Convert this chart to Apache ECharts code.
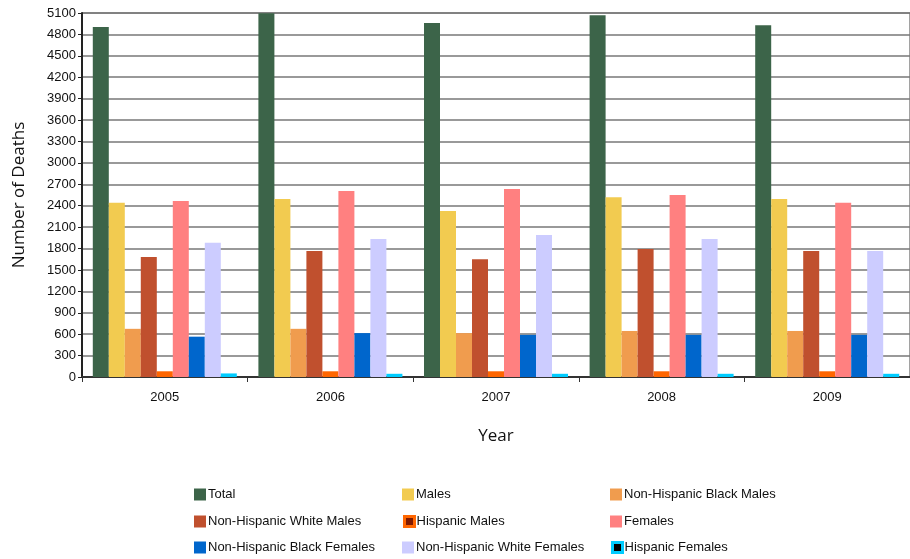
<!DOCTYPE html>
<html>
<head>
<meta charset="utf-8">
<script src="https://cdn.jsdelivr.net/npm/echarts@6/dist/echarts.min.js"></script>
<style>
  html, body { margin: 0; padding: 0; background: #fff; }
  #chart { width: 910px; height: 559px; }
</style>
</head>
<body>
<div id="chart"></div>
<script>
  // years on the x axis
  const years = ['2005', '2006', '2007', '2008', '2009'];

  // deaths per group
  const total = [4905, 5095, 4960, 5070, 4930];
  const males = [2440, 2495, 2325, 2520, 2495];
  const nhBlackMales = [675, 675, 615, 645, 645];
  const nhWhiteMales = [1680, 1765, 1650, 1795, 1765];
  const hispanicMales = [80, 80, 80, 80, 80];
  const females = [2465, 2605, 2635, 2550, 2440];
  const nhBlackFemales = [565, 615, 590, 590, 590];
  const nhWhiteFemales = [1880, 1935, 1990, 1935, 1765];
  const hispanicFemales = [50, 45, 45, 45, 45];

  const seriesNames = ['Total', 'Males', 'Non-Hispanic Black Males', 'Non-Hispanic White Males',
    'Hispanic Males', 'Females', 'Non-Hispanic Black Females', 'Non-Hispanic White Females', 'Hispanic Females'];
  const seriesData = [total, males, nhBlackMales, nhWhiteMales, hispanicMales,
    females, nhBlackFemales, nhWhiteFemales, hispanicFemales];
  const colors = ['#3c6449', '#f2cb50', '#f09c4e', '#c0502e', '#ff6600',
    '#ff8080', '#0066cc', '#ccccff', '#00ccff'];
  // inner colour of the two framed legend keys
  const innerColors = { 'Hispanic Males': '#801a00', 'Hispanic Females': '#000000' };

  const font = 'Liberation Sans, Arial, sans-serif';

  let series = [];
  for (let i = 0; i < seriesNames.length; i++) {
    series.push({
      name: seriesNames[i],
      type: 'bar',
      barWidth: 16,
      barGap: '0%',
      itemStyle: { color: colors[i] },
      data: seriesData[i]
    });
  }

  // one small legend per entry so the 3x3 grid lines up
  const legendLeft = [194, 402, 610];
  const legendTop = [488, 515, 541];
  let legends = [];
  for (let i = 0; i < seriesNames.length; i++) {
    let name = seriesNames[i];
    let framed = innerColors[name] !== undefined;
    let item = { name: name };
    if (framed) {
      item.itemStyle = { color: innerColors[name], borderColor: colors[i], borderWidth: 3 };
    }
    legends.push({
      left: legendLeft[i % 3] + (framed ? 1 : 0),
      top: legendTop[Math.floor(i / 3)],
      padding: 0,
      itemWidth: framed ? 10 : 12,
      itemHeight: framed ? 10 : 12,
      icon: 'rect',
      selectedMode: false,
      textStyle: { fontFamily: font, fontSize: 13, color: '#111', padding: [0, 0, 0, framed ? -3 : -3] },
      data: [item]
    });
  }

  let chart = echarts.init(document.getElementById('chart'));
  chart.setOption({
    animation: false,
    backgroundColor: '#fff',
    grid: {
      left: 82, right: -6, top: 13, bottom: 182,
      show: true, borderColor: '#444', borderWidth: 1
    },
    legend: legends,
    xAxis: {
      type: 'category',
      data: years,
      name: 'Year',
      nameLocation: 'middle',
      nameGap: 51,
      nameTextStyle: { fontFamily: 'Open Sans, sans-serif', fontSize: 17, color: '#111' },
      axisLine: { lineStyle: { color: '#333', width: 2 } },
      axisTick: { show: true, length: 5, lineStyle: { color: '#333' } },
      axisLabel: { fontFamily: font, fontSize: 13, color: '#111', margin: 14 }
    },
    yAxis: {
      type: 'value',
      min: 0,
      max: 5100,
      interval: 300,
      name: 'Number of Deaths',
      nameLocation: 'middle',
      nameGap: 54,
      nameTextStyle: { fontFamily: 'Open Sans, sans-serif', fontSize: 17, color: '#111' },
      axisLine: { show: true, lineStyle: { color: '#222', width: 2 } },
      axisTick: { show: true, length: 4, lineStyle: { color: '#222' } },
      axisLabel: {
        fontFamily: font, fontSize: 13, color: '#111', margin: 6,
        formatter: function (v) { return String(v); }
      },
      splitLine: { lineStyle: { color: '#777', width: 1.5 } }
    },
    series: series
  });
</script>
</body>
</html>
